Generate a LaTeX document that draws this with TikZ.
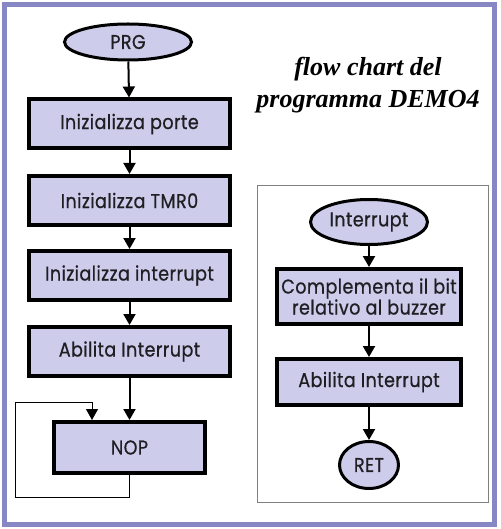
\documentclass[tikz,border=0pt]{standalone}
\usepackage{fontspec}
\usepackage{tikz}
\usetikzlibrary{shapes.geometric, arrows.meta}
\newfontfamily\chartfont[FakeStretch=0.88, FakeBold=0.6, LetterSpace=2]{Poppins}
\newfontfamily\titlefont{Liberation Serif}
\definecolor{frameC}{RGB}{135, 135, 195}
\definecolor{boxC}{RGB}{205, 205, 235}
\definecolor{inkC}{RGB}{30, 30, 35}

\begin{document}
\begin{tikzpicture}[x=1pt, y=-1pt, font=\chartfont\fontsize{20}{21}\selectfont, text=inkC,
  block/.style={draw=black, line width=4pt, fill=boxC, minimum width=201pt, minimum height=49pt, inner sep=0pt},
  term/.style={draw=black, ellipse, line width=3pt, fill=boxC, inner sep=0pt},
  flow/.style={line width=2pt, -{Triangle[width=12pt, length=11pt]}},
  backline/.style={line width=1pt, -{Triangle[width=12pt, length=11pt]}}]
  \useasboundingbox (0,0) rectangle (500,529);
  % Outer frame
  \draw[frameC, line width=5pt] (4.5,4.5) rectangle (494.5,524.5);

  % Title
  \node[font=\titlefont\bfseries\itshape\fontsize{26}{32}\selectfont, align=center, text=black] (title) at (368,85) {flow chart del\\programma DEMO4};

  % Main program
  \node[term, minimum width=127pt, minimum height=36pt] (prg) at (128,42) {PRG};
  \node[block] (porte) at (129.5,124) {Inizializza porte};
  \node[block] (tmr) at (129.5,200.5) {Inizializza TMR0};
  \node[block] (intr) at (129.5,275.5) {Inizializza interrupt};
  \node[block] (abil) at (129.5,351.5) {Abilita Interrupt};
  \node[block, minimum width=151pt, minimum height=51pt] (nop) at (129.5,447.5) {NOP};

  \draw[flow] (prg) -- (porte);
  \draw[flow] (porte) -- (tmr);
  \draw[flow] (tmr) -- (intr);
  \draw[flow] (intr) -- (abil);
  \draw[flow] (abil) -- (nop);

  % Endless loop on NOP
  \coordinate (loopB) at (15,497);
  \coordinate (loopT) at (15,402);
  \draw[backline] (nop.south) |- (loopB) -- (loopT) -| ([xshift=-37.5pt]nop.north);

  % Interrupt routine
  \draw[gray, line width=1pt] (257,186) rectangle (488,502);
  \node[term, minimum width=117pt, minimum height=45pt] (irq) at (369,222) {Interrupt};
  \node[block, minimum width=184pt, minimum height=55pt, align=center] (cmpl) at (369,296.5) {Complementa il bit\\relativo al buzzer};
  \node[block, minimum width=184pt, minimum height=46pt] (abil2) at (369,382) {Abilita Interrupt};
  \node[term, minimum width=59pt, minimum height=47pt] (ret) at (369,465) {RET};

  \draw[flow] (irq) -- (cmpl);
  \draw[flow] (cmpl) -- (abil2);
  \draw[flow] (abil2) -- (ret);
\end{tikzpicture}
\end{document}
